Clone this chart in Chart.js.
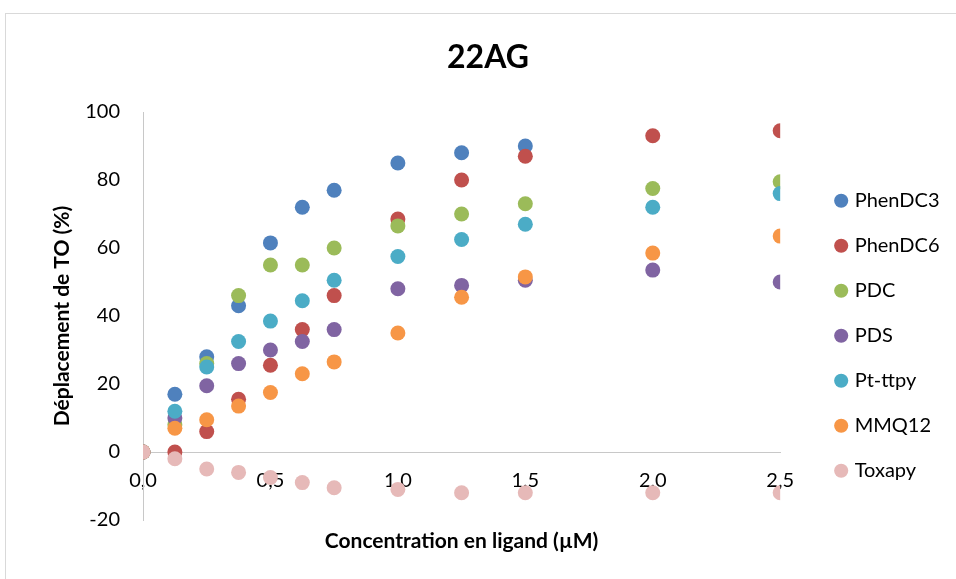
<!DOCTYPE html>
<html>
<head>
<meta charset="utf-8">
<title>22AG</title>
<script src="https://cdn.jsdelivr.net/npm/chart.js@4.4.1/dist/chart.umd.min.js"></script>
<style>
  html, body { margin: 0; padding: 0; background: #fff; overflow: hidden; }
  /* light outline of the chart panel */
  #frame { position: absolute; left: 5px; top: 13px; width: 1200px; height: 800px; border: 1px solid #d9d9d9; }
  #wrap { position: relative; width: 956px; height: 579px; }
</style>
</head>
<body>
<div id="frame"></div>
<div id="wrap"><canvas id="chart"></canvas></div>
<script>
// ligand concentrations (µM)
const concentrations = [0, 0.125, 0.25, 0.375, 0.5, 0.625, 0.75, 1.0, 1.25, 1.5, 2.0, 2.5];

// TO displacement (%) for each ligand, null = not measured
const phenDC3 = [0, 17, 28, 43, 61.5, 72, 77, 85, 88, 90, null, null];
const phenDC6 = [0, 0, 6, 15.5, 25.5, 36, 46, 68.5, 80, 87, 93, 94.5];
const pdc     = [0, 8, 26, 46, 55, 55, 60, 66.5, 70, 73, 77.5, 79.5];
const pds     = [0, 10, 19.5, 26, 30, 32.5, 36, 48, 49, 50.5, 53.5, 50];
const ptTtpy  = [0, 12, 25, 32.5, 38.5, 44.5, 50.5, 57.5, 62.5, 67, 72, 76];
const mmq12   = [0, 7, 9.5, 13.5, 17.5, 23, 26.5, 35, 45.5, 51.5, 58.5, 63.5];
const toxapy  = [0, -2, -5, -6, -7.5, -9, -10.5, -11, -12, -12, -12, -12];

const seriesNames  = ['PhenDC3', 'PhenDC6', 'PDC', 'PDS', 'Pt-ttpy', 'MMQ12', 'Toxapy'];
const seriesValues = [phenDC3, phenDC6, pdc, pds, ptTtpy, mmq12, toxapy];
const seriesColors = ['#4f81bd', '#c0504d', '#9bbb59', '#8064a2', '#4bacc6', '#f79646', '#e6b9b8'];

const yTicks = [-20, 0, 20, 40, 60, 80, 100];

Chart.defaults.font.family = 'Lato, "Open Sans", sans-serif';
Chart.defaults.color = '#0d0d0d';

const toPoints = (values) =>
  concentrations
    .map((c, i) => ({ x: c, y: values[i] }))
    .filter((p) => p.y !== null);

const datasets = seriesNames.map((name, i) => ({
  label: name,
  data: toPoints(seriesValues[i]),
  backgroundColor: seriesColors[i],
  borderColor: seriesColors[i],
  borderWidth: 0,
  pointRadius: 7.5,
  pointHoverRadius: 7.5,
  // later series sit on top of earlier ones
  order: seriesNames.length - i,
}));

const axisGray = '#c8c8c8';

new Chart(document.getElementById('chart'), {
  type: 'scatter',
  data: { datasets },
  options: {
    responsive: true,
    maintainAspectRatio: false,
    animation: false,
    layout: { padding: { left: 26.5, right: 6.5, top: 0, bottom: 0 } },
    plugins: {
      title: {
        display: true,
        text: '22AG',
        color: '#000',
        font: { size: 32, weight: 'bold' },
        padding: { top: 38, bottom: 35.6 },
      },
      legend: {
        position: 'right',
        fullSize: false,
        title: { display: true, text: '', font: { size: 10, lineHeight: 1 }, padding: { top: 14.7, bottom: 14.7 } },
        labels: {
          usePointStyle: true,
          boxWidth: 7,
          boxHeight: 10,
          padding: 25,
          color: '#000',
          font: { size: 20 },
          sort: (a, b) => a.datasetIndex - b.datasetIndex,
        },
      },
      tooltip: { enabled: false },
    },
    scales: {
      x: {
        type: 'linear',
        position: { y: 0 },
        min: 0,
        max: 2.5,
        z: 1,
        grid: { display: false, drawTicks: false },
        border: { display: true, color: axisGray, width: 1 },
        ticks: {
          stepSize: 0.5,
          padding: 17,
          color: '#000',
          font: { size: 20 },
          callback: (v) => v.toFixed(1).replace('.', ','),
        },
      },
      xTitle: {
        type: 'linear',
        position: 'bottom',
        grid: { display: false, drawTicks: false },
        border: { display: false },
        ticks: { display: false },
        title: {
          display: true,
          text: 'Concentration en ligand (µM)',
          color: '#000',
          font: { size: 21, weight: 'bold' },
          padding: { top: 8.4, bottom: 25.4 },
        },
      },
      y: {
        type: 'linear',
        position: 'left',
        min: -20,
        max: 100,
        grid: { display: false, drawTicks: false },
        border: { display: true, color: axisGray, width: 1 },
        afterBuildTicks: (scale) => { scale.ticks = yTicks.map((v) => ({ value: v })); },
        afterFit: (scale) => { scale.width = 116.5; },
        ticks: {
          padding: 23,
          color: '#000',
          font: { size: 20 },
        },
        title: {
          display: true,
          text: 'Déplacement de TO (%)',
          color: '#000',
          font: { size: 21, weight: 'bold' },
          padding: { top: 22.9, bottom: 6 },
        },
      },
      // empty strip between the plot and the legend
      yPad: {
        position: 'right',
        grid: { display: false, drawTicks: false },
        border: { display: false },
        ticks: { display: false },
        afterFit: (scale) => { scale.width = 32.5; },
      },
    },
  },
});
</script>
</body>
</html>
